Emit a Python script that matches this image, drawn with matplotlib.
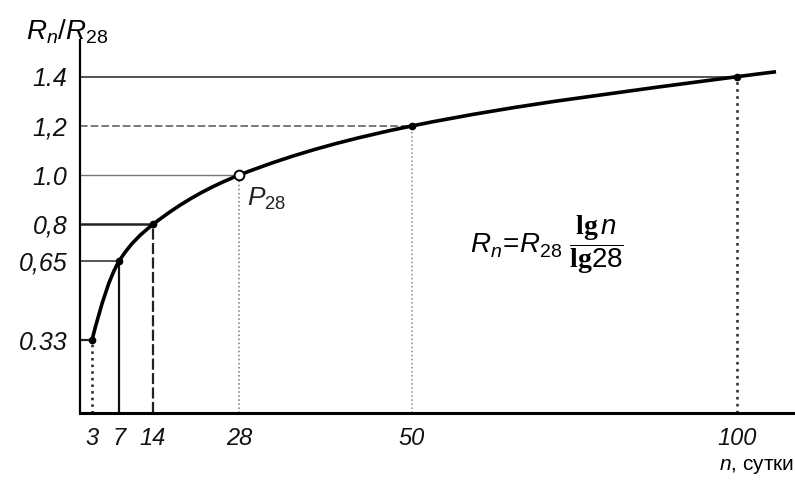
import numpy as np
import matplotlib
matplotlib.use('Agg')
import matplotlib.pyplot as plt
from matplotlib.path import Path
from matplotlib.patches import PathPatch

# points
n_days = [3, 7, 14, 28, 50, 100]
ratio = [0.33, 0.65, 0.8, 1.0, 1.2, 1.4]
x_labels = ['3', '7', '14', '28', '50', '100']
y_labels = ['0.33', '0,65', '0,8', '1.0', '1,2', '1.4']
# the curve runs on a little past n = 100
curve_end = (106, 1.42)

# the n axis of the drawing is not to scale: where each n sits (pixels)
scale_n = [0, 3, 7, 14, 28, 50, 100, 110]
scale_px = [72, 92, 119, 153, 239, 412, 737, 802]

plt.rcParams['font.family'] = ['Liberation Sans', 'DejaVu Sans']
plt.rcParams['mathtext.fontset'] = 'custom'
plt.rcParams['mathtext.it'] = 'Liberation Sans:italic'
plt.rcParams['mathtext.rm'] = 'Liberation Sans'
plt.rcParams['mathtext.bf'] = 'Liberation Serif:bold'


def fwd(n):
    return np.interp(n, scale_n, scale_px)


def inv(p):
    return np.interp(p, scale_px, scale_n)


def monotone_path(xs, ys):
    """Monotone cubic (pchip-like) through the points, as Bezier segments."""
    x = np.asarray(xs, float)
    y = np.asarray(ys, float)
    h = np.diff(x)
    d = np.diff(y) / h
    m = np.zeros_like(x)
    for k in range(1, len(x) - 1):
        if d[k - 1] * d[k] > 0:
            w1 = 2 * h[k] + h[k - 1]
            w2 = h[k] + 2 * h[k - 1]
            m[k] = (w1 + w2) / (w1 / d[k - 1] + w2 / d[k])
    m[0] = d[0] * 1.35
    m[-1] = d[-1]
    verts = [(x[0], y[0])]
    codes = [Path.MOVETO]
    for k in range(len(x) - 1):
        verts += [(x[k] + h[k] / 3, y[k] + m[k] * h[k] / 3),
                  (x[k + 1] - h[k] / 3, y[k + 1] - m[k + 1] * h[k] / 3),
                  (x[k + 1], y[k + 1])]
        codes += [Path.CURVE4] * 3
    return Path(verts, codes)


fig = plt.figure(figsize=(7.95, 4.84), dpi=100)
ax = fig.add_axes([80 / 795, 71 / 484, 715 / 795, 373 / 484])
ax.set_xscale('function', functions=(fwd, inv))
ax.set_xlim(inv(80), inv(795))
ax.set_ylim(0.034, 1.549)

for s in ['top', 'right']:
    ax.spines[s].set_visible(False)
ax.spines['left'].set_linewidth(1.6)
ax.spines['bottom'].set_linewidth(2.2)

# guide lines
h_styles = [('-', 1.6, '#222'), ('-', 1.4, '#555'), ('-', 1.8, '#222'),
            ('-', 1.0, '#777'), ((0, (5, 2)), 1.1, '#555'), ('-', 1.3, '#444')]
v_styles = [(':', 1.8, '#222'), ('-', 1.6, '#111'), ((0, (5, 1.5)), 1.6, '#222'),
            (':', 1.1, '#777'), (':', 1.1, '#888'), (':', 1.9, '#333')]
x0, y0 = ax.get_xlim()[0], ax.get_ylim()[0]
for i, (n, r) in enumerate(zip(n_days, ratio)):
    ls, lw, c = h_styles[i]
    ax.plot([x0, n], [r, r], ls=ls, lw=lw, color=c, zorder=2)
    ls, lw, c = v_styles[i]
    ax.plot([n, n], [y0, r], ls=ls, lw=lw, color=c, zorder=2)

# build the curve in the drawing's own (scaled) x so it bends smoothly
xs = fwd(np.array(n_days + [curve_end[0]], float))
ys = ratio + [curve_end[1]]
ax.add_patch(PathPatch(monotone_path(xs, ys), fill=False, lw=2.6,
                       edgecolor='black', zorder=3,
                       transform=ax.transLimits + ax.transAxes))

for n, r in zip(n_days, ratio):
    if n == 28:
        ax.plot(n, r, 'o', ms=7, mfc='white', mec='black', mew=1.4, zorder=4)
    else:
        ax.plot(n, r, 'o', ms=4.5, color='black', zorder=4)

ax.annotate(r'$P_{28}$', (28, 1.0), xytext=(6, -22), textcoords='offset points',
            fontsize=19, color='#222')

ax.set_xticks(n_days)
ax.set_xticklabels(x_labels, fontsize=17, style='italic')
ax.set_yticks(ratio)
ax.set_yticklabels(y_labels, fontsize=18, style='italic')
ax.tick_params(axis='x', length=0, pad=10, colors='#111')
ax.tick_params(axis='y', length=0, pad=9, colors='#111')
ax.minorticks_off()

fig.text(26 / 795, 1 - 32 / 484, r'$R_n/R_{28}$', fontsize=20, va='center')
fig.text(794 / 795, 1 - 467 / 484, r'$n$, сутки', fontsize=15, va='center',
         ha='right')
ax.text(0.545, 0.45,
        r'$R_n\!=\!R_{28}\ \dfrac{\mathbf{lg}\,n}{\mathbf{lg}\mathit{28}}$',
        transform=ax.transAxes, fontsize=20, va='center')

fig.savefig('out.png', dpi=100)
